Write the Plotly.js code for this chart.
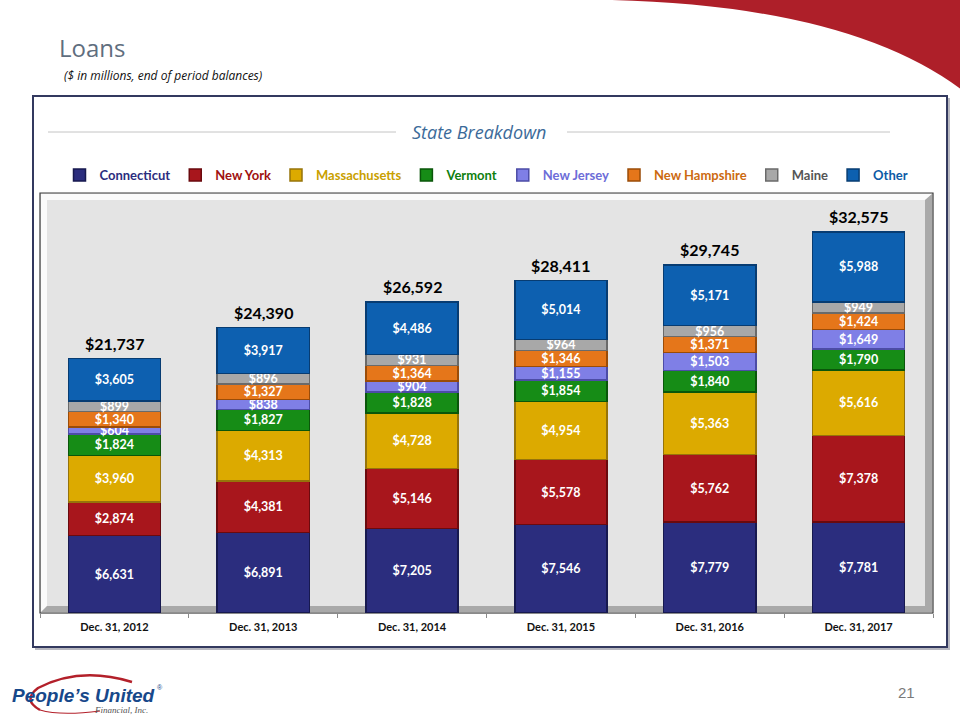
<!DOCTYPE html>
<html>
<head>
<meta charset="utf-8">
<script src="https://cdn.plot.ly/plotly-3.0.1.min.js"></script>
<style>
html,body{margin:0;padding:0;background:#fff;}
#chart{width:960px;height:720px;}
</style>
</head>
<body>
<div id="chart"></div>
<script>
// ---- data ----
var categories = ["Dec. 31, 2012","Dec. 31, 2013","Dec. 31, 2014","Dec. 31, 2015","Dec. 31, 2016","Dec. 31, 2017"];
var connecticut   = [6631, 6891, 7205, 7546, 7779, 7781];
var newYork       = [2874, 4381, 5146, 5578, 5762, 7378];
var massachusetts = [3960, 4313, 4728, 4954, 5363, 5616];
var vermont       = [1824, 1827, 1828, 1854, 1840, 1790];
var newJersey     = [604, 838, 904, 1155, 1503, 1649];
var newHampshire  = [1340, 1327, 1364, 1346, 1371, 1424];
var maine         = [899, 896, 931, 964, 956, 949];
var other         = [3605, 3917, 4486, 5014, 5171, 5988];
var totals        = [21737, 24390, 26592, 28411, 29745, 32575];
var seriesNames   = ["Connecticut","New York","Massachusetts","Vermont","New Jersey","New Hampshire","Maine","Other"];

// ---- styles ----
var fills  = ["#2b2d7e","#a8161c","#dcaa00","#168c16","#7f7fe6","#e5761a","#a8a8a8","#0d60b0"];
var edges  = ["#17194f","#6a0a0e","#96740a","#0a560a","#4c4ca6","#9a4c08","#6a6a6a","#073c72"];
var legCol = ["#2b2d7e","#a01010","#c9a000","#0f7f0f","#6d6dd8","#cc6a10","#555555","#0c5aa6"];
var seriesData = [connecticut,newYork,massachusetts,vermont,newJersey,newHampshire,maine,other];

var traces = seriesData.map(function(vals,i){
  return {
    type:'bar',
    x:categories,
    y:vals,
    name:'<b><span style="color:'+legCol[i]+'">'+seriesNames[i]+'</span></b>',
    marker:{color:fills[i], line:{color:edges[i], width:1.5}},
    texttemplate:'$%{y:,.0f}',
    textposition:'inside',
    insidetextanchor:'middle',
    textangle:0,
    constraintext:'none',
    textfont:{family:'Lato, sans-serif', size:12.5, color:'#ffffff', weight:700},
    hoverinfo:'skip'
  };
});

// pixel -> paper helpers (plot area 40..933 x, 193..613 y)
var L=40, R=933, T=193, B=613;
function px(x){ return (x-L)/(R-L); }
function py(y){ return (B-y)/(B-T); }

var annotations = totals.map(function(t,i){
  return {x:categories[i], y:t, xref:'x', yref:'y', yanchor:'bottom', yshift:4,
          text:'<b>$'+t.toLocaleString('en-US')+'</b>', showarrow:false,
          font:{family:'Lato, sans-serif', size:16, color:'#000'}};
});

annotations.push(
  {xref:'paper', yref:'paper', x:px(57), y:py(48), xanchor:'left', yanchor:'middle', showarrow:false,
   text:'Loans', font:{family:'Open Sans, sans-serif', size:24, color:'#5f6e7e'}},
  {xref:'paper', yref:'paper', x:px(62), y:py(75), xanchor:'left', yanchor:'middle', showarrow:false,
   text:'<i>($ in millions, end of period balances)</i>', font:{family:'Open Sans, sans-serif', size:12, color:'#111'}},
  {xref:'paper', yref:'paper', x:px(479), y:py(132), xanchor:'center', yanchor:'middle', showarrow:false,
   text:'<i>State Breakdown</i>', font:{family:'Open Sans, sans-serif', size:18, color:'#3b6a99'}},
  {xref:'paper', yref:'paper', x:px(917), y:py(692), xanchor:'right', yanchor:'middle', showarrow:false,
   text:'21', font:{family:'Liberation Sans, Arial, sans-serif', size:15, color:'#7a7a7a'}},
  {xref:'paper', yref:'paper', x:px(10), y:py(695), xanchor:'left', yanchor:'middle', showarrow:false,
   text:'<b><i>People\u2019s United</i></b>', font:{family:'Liberation Sans, Arial, sans-serif', size:19, color:'#17488a'}},
  {xref:'paper', yref:'paper', x:px(155), y:py(687), xanchor:'left', yanchor:'middle', showarrow:false,
   text:'®', font:{family:'Liberation Sans, Arial, sans-serif', size:7, color:'#17488a'}},
  {xref:'paper', yref:'paper', x:px(150), y:py(710), xanchor:'right', yanchor:'middle', showarrow:false,
   text:'<i>Financial, Inc.</i>', font:{family:'Liberation Serif, serif', size:9, color:'#555'}}
);

var shapes = [
  // red swoosh top right
  {type:'path', xref:'paper', yref:'paper', layer:'below',
   path:'M '+px(612)+','+py(0)+' Q '+px(850)+','+py(6)+' '+px(962)+','+py(90)+' L '+px(962)+','+py(-2)+' Z',
   fillcolor:'#ae1f29', line:{width:0}},
  // outer box shadow
  {type:'rect', xref:'paper', yref:'paper', layer:'below',
   x0:px(35), x1:px(950), y0:py(98), y1:py(650), fillcolor:'#b8b8c0', line:{width:0}},
  // outer box
  {type:'rect', xref:'paper', yref:'paper', layer:'below',
   x0:px(33), x1:px(947), y0:py(96), y1:py(647), fillcolor:'#ffffff', line:{color:'#33395f', width:2}},
  // title rules
  {type:'line', xref:'paper', yref:'paper', x0:px(48), x1:px(396), y0:py(132), y1:py(132), line:{color:'#c4c4c4', width:1}},
  {type:'line', xref:'paper', yref:'paper', x0:px(567), x1:px(890), y0:py(132), y1:py(132), line:{color:'#c4c4c4', width:1}},
  // plot area bevel
  {type:'rect', xref:'paper', yref:'paper', layer:'below',
   x0:0, x1:1, y0:0, y1:1, fillcolor:'#e4e4e4', line:{color:'#3a3a3a', width:1.2}},
  {type:'path', xref:'paper', yref:'paper', layer:'below',
   path:'M '+px(41)+','+py(194)+' L '+px(932)+','+py(194)+' L '+px(925)+','+py(200)+' L '+px(47)+','+py(200)+' L '+px(47)+','+py(606)+' L '+px(41)+','+py(612)+' Z',
   fillcolor:'#fbfbfb', line:{width:0}},
  {type:'path', xref:'paper', yref:'paper', layer:'below',
   path:'M '+px(932)+','+py(194)+' L '+px(932)+','+py(612)+' L '+px(41)+','+py(612)+' L '+px(47)+','+py(606)+' L '+px(925)+','+py(606)+' L '+px(925)+','+py(200)+' Z',
   fillcolor:'#a9a9a9', line:{width:0}},
  // logo swoosh
  {type:'path', xref:'paper', yref:'paper',
   path:'M '+px(132)+','+py(682)+' Q '+px(80)+','+py(666)+' '+px(38)+','+py(688)+' Q '+px(22)+','+py(700)+' '+px(40)+','+py(710),
   line:{color:'#b3202a', width:2.5}},
  {type:'path', xref:'paper', yref:'paper',
   path:'M '+px(40)+','+py(710)+' Q '+px(60)+','+py(716)+' '+px(100)+','+py(711),
   line:{color:'#b3202a', width:1.2}}
];

var layout = {
  width:960, height:720,
  margin:{l:L, r:960-R, t:T, b:720-B, pad:0},
  paper_bgcolor:'#ffffff',
  plot_bgcolor:'rgba(0,0,0,0)',
  barmode:'stack',
  bargap:0.38,
  showlegend:true,
  legend:{orientation:'h', x:0.5, xanchor:'center', y:py(175), yanchor:'middle',
          traceorder:'normal', bgcolor:'rgba(0,0,0,0)',
          font:{family:'Lato, sans-serif', size:13}},
  xaxis:{type:'category', range:[-0.5,5.5], showline:true, linecolor:'#8a8a8a', linewidth:1,
         ticks:'outside', tickson:'boundaries', ticklen:4, tickcolor:'#8a8a8a', showgrid:false,
         ticklabelstandoff:4,
         tickfont:{family:'Lato, sans-serif', size:11, color:'#111', weight:700},
         fixedrange:true},
  yaxis:{visible:false, range:[0,35900], showgrid:false, zeroline:false, fixedrange:true},
  annotations:annotations,
  shapes:shapes,
  font:{family:'Lato, sans-serif'}
};

Plotly.newPlot('chart', traces, layout, {displayModeBar:false, staticPlot:true});
</script>
</body>
</html>
